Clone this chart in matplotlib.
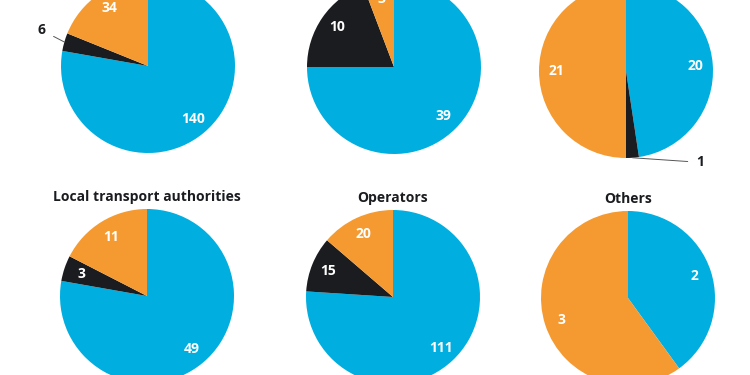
import numpy as np
import matplotlib
matplotlib.use("Agg")
import matplotlib.pyplot as plt

plt.rcParams['font.family'] = ['Open Sans', 'DejaVu Sans']

# values per pie: blue, black, orange (clockwise from 12 o'clock)
blue = [140, 39, 20, 49, 111, 2]
black = [6, 10, 1, 3, 15, 0]
orange = [34, 3, 21, 11, 20, 3]
titles = ["", "", "", "Local transport authorities", "Operators", "Others"]

colors = ["#00AEDF", "#1B1C20", "#F59A30"]

# pie centres in pixels (x from left, y from top), radius in pixels
centres = [(148, 66), (394, 67), (626, 71), (147, 296), (393, 297), (628, 298)]
R = 87
W, H = 750, 375

# labels drawn outside the pie with a leader line: (pie, wedge) -> text position
outside = {(0, 1): (-1.22, 0.41), (2, 1): (0.85, -1.05)}

fig = plt.figure(figsize=(7.5, 3.75), dpi=100)

for i in range(6):
    cx, cy = centres[i]
    ax = fig.add_axes([(cx - R) / W, (H - cy - R) / H, 2 * R / W, 2 * R / H])
    vals = [blue[i], black[i], orange[i]]
    wedges, _ = ax.pie(vals, colors=colors, startangle=90, counterclock=False,
                       radius=1)
    ax.set_xlim(-1, 1)
    ax.set_ylim(-1, 1)
    ax.set_aspect('equal')
    ax.axis('off')
    for j, w in enumerate(wedges):
        if vals[j] == 0:
            continue
        mid = np.deg2rad((w.theta1 + w.theta2) / 2)
        if (i, j) in outside:
            tx, ty = outside[(i, j)]
            ax.annotate(str(vals[j]), xy=(np.cos(mid), np.sin(mid)), xytext=(tx, ty),
                        ha='center', va='center', fontsize=10, fontweight='bold',
                        color='#1B1C20', annotation_clip=False,
                        arrowprops=dict(arrowstyle='-', color='#555555', lw=0.7,
                                        shrinkA=4, shrinkB=0))
        else:
            d = 0.8
            ax.text(d * np.cos(mid), d * np.sin(mid), str(vals[j]), ha='center',
                    va='center', fontsize=10, fontweight='bold', color='white')
    if titles[i]:
        ax.set_title(titles[i], fontsize=10, fontweight='bold', color='#1B1C20', pad=6)

fig.savefig("out.png", dpi=100, facecolor='white')
